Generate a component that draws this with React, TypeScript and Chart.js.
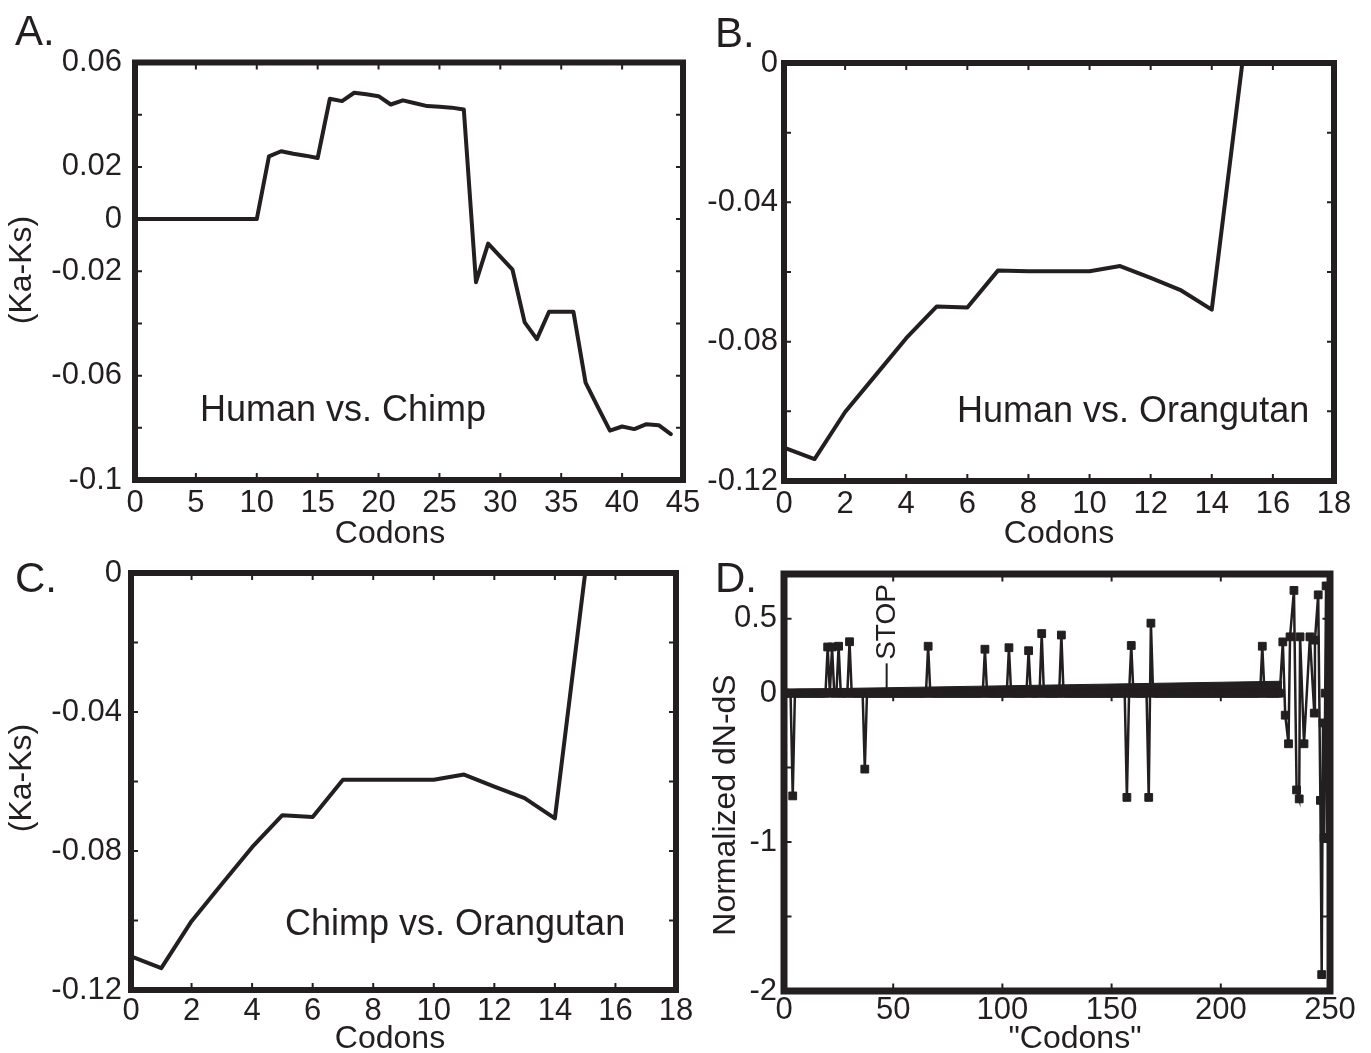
import React, { useEffect, useRef } from 'react';
import { Chart, registerables } from 'chart.js';
Chart.register(...registerables);

const FONT = '"Liberation Sans", Arial, Helvetica, sans-serif';
const INK = '#231f20';

// ---------- Panel A: Human vs. Chimp ----------
const aCodons = [0, 1, 2, 3, 4, 5, 6, 7, 8, 9, 10, 11, 12, 13, 14, 15, 16, 17, 18, 19, 20, 21, 22,
  23, 24, 25, 26, 27, 28, 29, 30, 31, 32, 33, 34, 35, 36, 37, 38, 39, 40, 41, 42, 43, 44];
const aKaKs = [0, 0, 0, 0, 0, 0, 0, 0, 0, 0, 0, 0.024, 0.026, 0.025, 0.0243, 0.0234, 0.0461, 0.0452,
  0.0484, 0.0478, 0.0471, 0.0439, 0.0455, 0.0444, 0.0433, 0.043, 0.0427, 0.042, -0.0242, -0.0094,
  -0.0144, -0.0194, -0.0396, -0.046, -0.0355, -0.0355, -0.0355, -0.0627, -0.072, -0.0811, -0.0795,
  -0.0805, -0.0786, -0.079, -0.0824];
const aXTicks = [0, 5, 10, 15, 20, 25, 30, 35, 40, 45];
const aYTicks = [-0.1, -0.08, -0.06, -0.04, -0.02, 0, 0.02, 0.04, 0.06];
const aYTickLabels = ['0.06', '0.02', '0', '-0.02', '-0.06', '-0.1'];

// ---------- Panel B: Human vs. Orangutan ----------
const bCodons = [0, 1, 2, 3, 4, 5, 6, 7, 8, 9, 10, 11, 12, 13, 14, 15];
const bKaKs = [-0.1104, -0.1137, -0.1002, -0.0896, -0.079, -0.0699, -0.0702, -0.0596, -0.0598,
  -0.0598, -0.0598, -0.0583, -0.0617, -0.0653, -0.0708, 0];

// ---------- Panel C: Chimp vs. Orangutan ----------
const cCodons = [0, 1, 2, 3, 4, 5, 6, 7, 8, 9, 10, 11, 12, 13, 14, 15];
const cKaKs = [-0.1103, -0.1137, -0.1002, -0.0895, -0.0789, -0.0697, -0.0702, -0.0595, -0.0595,
  -0.0595, -0.0595, -0.058, -0.0615, -0.0648, -0.0706, 0];

const bcXTicks = [0, 2, 4, 6, 8, 10, 12, 14, 16, 18];
const bcYTicks = [-0.12, -0.1, -0.08, -0.06, -0.04, -0.02, 0];
const bcYTickLabels = ['0', '-0.04', '-0.08', '-0.12'];

// ---------- Panel D: normalized dN-dS ----------
const dBaselineLast = 227; // codons 0..227 lie on the zero line except the spikes below
const dSpikeCodons = [4, 20, 22, 25, 30, 37, 66, 92, 103, 112, 118, 127, 157, 159, 167, 168, 219];
const dSpikeValues = [-0.69, 0.31, 0.31, 0.315, 0.345, -0.51, 0.315, 0.295, 0.305, 0.285, 0.4, 0.39,
  -0.7, 0.32, -0.7, 0.47, 0.315];
const dClusterCodons = [228.4, 229.5, 231.0, 231.7, 233.5, 234.7, 235.9, 236.3, 238.1, 240.8, 242.8,
  243.1, 244.6, 245.6, 246.2, 246.8, 247.3, 247.8, 248.2, 248.7, 249.2, 249.6, 250];
const dClusterValues = [0.344, -0.148, -0.34, 0.378, 0.69, -0.65, -0.71, 0.378, -0.34, 0.378, -0.134,
  0.356, 0.66, -0.72, -1.89, -0.2, -0.97, 0, 0.72, -0.97, -0.3, -0.97, 0.09];
const dStopCodon = 47;
const dStopHeight = 0.2;
const dWedgeCodons = [0, 228];
const dWedgeValues = [0.025, 0.08];
const dXTicks = [0, 50, 100, 150, 200, 250];
const dYTicks = [-2, -1.5, -1, -0.5, 0, 0.5];
const dYTickLabels = ['0.5', '0', '-1', '-2'];

const fmt = (v: number) => String(+(+v).toFixed(2));

type TextItem = { t: string; x: number; y: number; size: number; align?: CanvasTextAlign; base?: CanvasTextBaseline; rot?: number };

function framePlugin(ox: number, oy: number, border: number, texts: TextItem[], zeroTicks = false) {
  return {
    id: 'frame',
    afterDatasetsDraw(chart: any) {
      const { ctx, chartArea } = chart;
      const { left, right, top, bottom } = chartArea;
      const xs = chart.scales.x;
      const ys = chart.scales.y;
      ctx.save();
      ctx.strokeStyle = INK;
      ctx.lineWidth = 2;
      const tl = 4 + border / 2;
      ctx.beginPath();
      for (const t of xs.ticks) {
        const px = xs.getPixelForValue(t.value);
        ctx.moveTo(px, bottom); ctx.lineTo(px, bottom - tl);
        ctx.moveTo(px, top); ctx.lineTo(px, top + tl);
        if (zeroTicks) {
          const z = ys.getPixelForValue(0);
          ctx.moveTo(px, z); ctx.lineTo(px, z + 8);
        }
      }
      for (const t of ys.ticks) {
        const py = ys.getPixelForValue(t.value);
        ctx.moveTo(left, py); ctx.lineTo(left + tl, py);
        ctx.moveTo(right, py); ctx.lineTo(right - tl, py);
      }
      ctx.stroke();
      ctx.lineWidth = border;
      ctx.lineJoin = 'miter';
      ctx.strokeRect(left, top, right - left, bottom - top);
      ctx.fillStyle = INK;
      for (const it of texts) {
        ctx.save();
        ctx.font = `${it.size}px ${FONT}`;
        ctx.textAlign = it.align ?? 'center';
        ctx.textBaseline = it.base ?? 'middle';
        ctx.translate(it.x - ox, it.y - oy);
        if (it.rot) ctx.rotate(it.rot);
        ctx.fillText(it.t, 0, 0);
        ctx.restore();
      }
      ctx.restore();
    },
  };
}

type Spec = {
  left: number; top: number; width: number; height: number;
  padTop: number; padRight: number; yW: number; xH: number;
  xMin: number; xMax: number; yMin: number; yMax: number;
  xTicks: number[]; yTicks: number[]; yLabels: string[];
  xPad: number; yPad: number; border: number;
  datasets: any[]; texts: TextItem[]; zeroTicks?: boolean;
};

function makeConfig(s: Spec): any {
  const tickFont = { family: FONT, size: 31 };
  return {
    type: 'line',
    data: { datasets: s.datasets },
    options: {
      animation: false,
      responsive: false,
      devicePixelRatio: 1,
      events: [],
      layout: { padding: { top: s.padTop, right: s.padRight, left: 0, bottom: 0 } },
      plugins: { legend: { display: false }, tooltip: { enabled: false }, title: { display: false } },
      scales: {
        x: {
          type: 'linear', min: s.xMin, max: s.xMax,
          afterBuildTicks: (sc: any) => { sc.ticks = s.xTicks.map((v) => ({ value: v })); },
          afterFit: (sc: any) => { sc.height = s.xH; },
          ticks: { autoSkip: false, maxRotation: 0, minRotation: 0, padding: s.xPad, font: tickFont, color: INK, callback: (v: number) => fmt(v) },
          grid: { display: false, drawTicks: false },
          border: { display: false },
        },
        y: {
          type: 'linear', min: s.yMin, max: s.yMax,
          afterBuildTicks: (sc: any) => { sc.ticks = s.yTicks.map((v) => ({ value: v })); },
          afterFit: (sc: any) => { sc.width = s.yW; },
          ticks: { autoSkip: false, padding: s.yPad, font: tickFont, color: INK, callback: (v: number) => (s.yLabels.includes(fmt(v)) ? fmt(v) : '') },
          grid: { display: false, drawTicks: false },
          border: { display: false },
        },
      },
    },
    plugins: [framePlugin(s.left, s.top, s.border, s.texts, s.zeroTicks)],
  };
}

const lineDs = (xs: number[], ys: number[]) => ({
  data: xs.map((x, i) => ({ x, y: ys[i] })),
  borderColor: INK, borderWidth: 4, pointRadius: 0, tension: 0, fill: false,
  borderJoinStyle: 'round', borderCapStyle: 'round',
});

function buildD() {
  const xs: number[] = [];
  const ys: number[] = [];
  for (let c = 0; c <= dBaselineLast; c++) {
    const k = dSpikeCodons.indexOf(c);
    xs.push(c);
    ys.push(k >= 0 ? dSpikeValues[k] : 0);
  }
  dClusterCodons.forEach((c, i) => { xs.push(c); ys.push(dClusterValues[i]); });
  return [
    {
      data: xs.map((x, i) => ({ x, y: ys[i] })),
      borderColor: INK, borderWidth: 2.5, tension: 0, fill: false,
      pointStyle: 'rect', pointRadius: 5.5, pointBorderWidth: 1,
      pointBackgroundColor: INK, pointBorderColor: INK,
    },
    {
      data: [{ x: dStopCodon, y: 0 }, { x: dStopCodon, y: dStopHeight }],
      borderColor: INK, borderWidth: 2, pointRadius: 0, fill: false,
    },
    {
      data: dWedgeCodons.map((x, i) => ({ x, y: dWedgeValues[i] })),
      borderColor: INK, borderWidth: 1, pointRadius: 0, fill: 'origin', backgroundColor: INK,
    },
  ];
}

const HALF = -Math.PI / 2;

const specs: Spec[] = [
  {
    left: 0, top: 0, width: 710, height: 555, padTop: 62.5, padRight: 27, yW: 135, xH: 75,
    xMin: 0, xMax: 45, yMin: -0.1, yMax: 0.06, xTicks: aXTicks, yTicks: aYTicks, yLabels: aYTickLabels,
    xPad: 5, yPad: 13, border: 6,
    datasets: [lineDs(aCodons, aKaKs)],
    texts: [
      { t: 'A.', x: 15, y: 45, size: 42, align: 'left', base: 'alphabetic' },
      { t: 'Human vs. Chimp', x: 200, y: 421, size: 36, align: 'left', base: 'alphabetic' },
      { t: 'Codons', x: 390, y: 534, size: 32 },
      { t: '(Ka-Ks)', x: 22, y: 270, size: 32, rot: HALF },
    ],
  },
  {
    left: 700, top: 0, width: 671, height: 555, padTop: 63, padRight: 37, yW: 84, xH: 74,
    xMin: 0, xMax: 18, yMin: -0.12, yMax: 0, xTicks: bcXTicks, yTicks: bcYTicks, yLabels: bcYTickLabels,
    xPad: 5, yPad: 6, border: 6,
    datasets: [lineDs(bCodons, bKaKs)],
    texts: [
      { t: 'B.', x: 715, y: 47, size: 42, align: 'left', base: 'alphabetic' },
      { t: 'Human vs. Orangutan', x: 957, y: 422, size: 36, align: 'left', base: 'alphabetic' },
      { t: 'Codons', x: 1059, y: 534, size: 32 },
    ],
  },
  {
    left: 0, top: 545, width: 710, height: 508, padTop: 28, padRight: 34, yW: 131, xH: 63,
    xMin: 0, xMax: 18, yMin: -0.12, yMax: 0, xTicks: bcXTicks, yTicks: bcYTicks, yLabels: bcYTickLabels,
    xPad: 3, yPad: 9, border: 6,
    datasets: [lineDs(cCodons, cKaKs)],
    texts: [
      { t: 'C.', x: 15, y: 592, size: 42, align: 'left', base: 'alphabetic' },
      { t: 'Chimp vs. Orangutan', x: 285, y: 935, size: 36, align: 'left', base: 'alphabetic' },
      { t: 'Codons', x: 390, y: 1039, size: 32 },
      { t: '(Ka-Ks)', x: 22, y: 778, size: 32, rot: HALF },
    ],
  },
  {
    left: 700, top: 545, width: 671, height: 508, padTop: 29, padRight: 41, yW: 84, xH: 62,
    xMin: 0, xMax: 250, yMin: -2, yMax: 0.8, xTicks: dXTicks, yTicks: dYTicks, yLabels: dYTickLabels,
    xPad: 1, yPad: 7, border: 7,
    datasets: buildD(),
    zeroTicks: true,
    texts: [
      { t: 'D.', x: 715, y: 592, size: 42, align: 'left', base: 'alphabetic' },
      { t: '"Codons"', x: 1075, y: 1039, size: 32 },
      { t: 'Normalized dN-dS', x: 726, y: 805, size: 32, rot: HALF },
      { t: 'STOP', x: 887, y: 622, size: 28, rot: HALF },
    ],
  },
];

function Panel({ spec }: { spec: Spec }) {
  const ref = useRef<HTMLCanvasElement>(null);
  useEffect(() => {
    const chart = new Chart(ref.current as HTMLCanvasElement, makeConfig(spec));
    return () => chart.destroy();
  }, [spec]);
  return (
    <canvas
      ref={ref}
      width={spec.width}
      height={spec.height}
      style={{ position: 'absolute', left: spec.left, top: spec.top, width: spec.width, height: spec.height }}
    />
  );
}

export default function App() {
  return (
    <div style={{ position: 'absolute', left: 0, top: 0, width: 1371, height: 1053, background: '#fff', overflow: 'hidden' }}>
      {specs.map((s, i) => <Panel key={i} spec={s} />)}
    </div>
  );
}
